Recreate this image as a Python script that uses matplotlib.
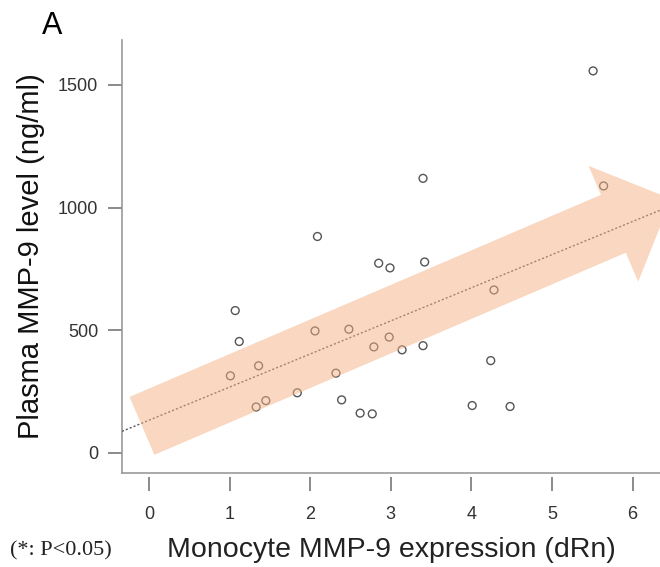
import matplotlib
matplotlib.use("Agg")
import matplotlib.pyplot as plt
from matplotlib.patches import FancyArrow
from matplotlib.transforms import IdentityTransform

plt.rcParams['font.family'] = ['Liberation Sans', 'DejaVu Sans']

# monocyte MMP-9 expression (dRn) vs plasma MMP-9 level (ng/ml)
expr = [1.07, 1.12, 1.01, 1.36, 1.33, 1.45, 1.84, 2.06, 2.48, 2.32,
        2.39, 2.79, 2.98, 3.14, 3.40, 2.62, 2.77, 2.85, 2.99, 3.42,
        2.09, 5.51, 5.64, 3.40, 4.28, 4.24, 4.01, 4.48]
plasma = [580, 454, 314, 355, 187, 213, 245, 497, 504, 325,
          216, 432, 472, 420, 437, 162, 159, 773, 754, 778,
          882, 1557, 1088, 1119, 664, 376, 193, 189]

# trend line
fit_intercept = 133
fit_slope = 135

x_ticks = [0, 1, 2, 3, 4, 5, 6]
y_ticks = [0, 500, 1000, 1500]

fig = plt.figure(figsize=(6.6, 5.67), dpi=100)
ax = fig.add_axes([0.1848, 0.1658, 1 - 0.1848, 0.9295 - 0.1658])

ax.scatter(expr, plasma, s=32, facecolors='none', edgecolors='#555555',
           linewidths=1.0, zorder=2)
ax.axline((0, fit_intercept), slope=fit_slope, color='#555555',
          linestyle=(0, (1.5, 1.5)), linewidth=1.0, zorder=3)

ax.set_xlim(-0.335, 6.34)
ax.set_ylim(-82, 1683)
ax.set_xticks(x_ticks)
ax.set_yticks(y_ticks)

for s in ['top', 'right']:
    ax.spines[s].set_visible(False)
ax.spines['left'].set_color('#999999')
ax.spines['left'].set_linewidth(1.2)
# x ticks sit a little below the box line (R style)
ax.spines['bottom'].set_position(('outward', 3))
ax.spines['bottom'].set_visible(False)
ax.plot([0, 1], [0, 0], transform=ax.transAxes, color='#999999',
        linewidth=1.2, clip_on=False, zorder=4)

ax.tick_params(axis='x', direction='out', length=10, width=1.2,
               color='#777777', pad=11, labelsize=13, labelcolor='#333333')
ax.tick_params(axis='y', direction='out', length=10, width=1.2,
               color='#777777', pad=7, labelsize=13, labelcolor='#333333')

ax.set_xlabel('Monocyte MMP-9 expression (dRn)', fontsize=20.5,
              color='#222222', labelpad=10)
ax.set_ylabel('Plasma MMP-9 level (ng/ml)', fontsize=21, color='#111111',
              labelpad=9)

# big trend arrow, defined in data space, drawn in pixels
fig.canvas.draw()
tail = ax.transData.transform((-0.087, 110))
tip = ax.transData.transform((6.48, 1035))
arrow = FancyArrow(tail[0], tail[1], tip[0] - tail[0], tip[1] - tail[1],
                   width=63, head_width=126, head_length=63,
                   length_includes_head=True, transform=IdentityTransform(),
                   facecolor='#F4B183', edgecolor='none', alpha=0.5, zorder=5)
fig.add_artist(arrow)

fig.text(0.079, 0.954, 'A', fontsize=22, ha='center', va='center')
fig.text(0.015, 0.028, '(*: P<0.05)', fontsize=16, ha='left', va='center',
         family=['Liberation Serif', 'DejaVu Serif'], color='#222222')

fig.savefig('out.png', dpi=100)
